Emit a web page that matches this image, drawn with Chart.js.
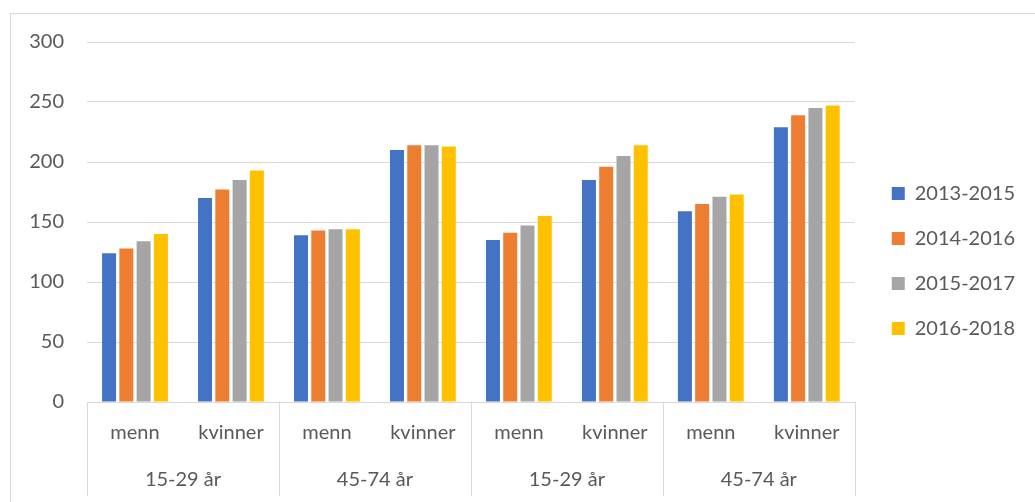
<!DOCTYPE html>
<html>
<head>
<meta charset="utf-8">
<script src="https://cdn.jsdelivr.net/npm/chart.js@4"></script>
<style>
  html, body { margin: 0; padding: 0; background: #fff; }
  #wrap { position: relative; width: 1035px; height: 502px; overflow: hidden; }
  #frame { position: absolute; left: 10px; top: 13px; width: 1100px; height: 600px; border: 1px solid #d9d9d9; pointer-events: none; }
</style>
</head>
<body>
<div id="wrap">
  <canvas id="chart" width="1035" height="502"></canvas>
  <div id="frame"></div>
</div>
<script>
// kategorier og verdier lest av figuren
const categories = ['menn', 'kvinner', 'menn', 'kvinner', 'menn', 'kvinner', 'menn', 'kvinner'];
const ageGroups = ['15-29 år', '45-74 år', '15-29 år', '45-74 år'];
const periods = ['2013-2015', '2014-2016', '2015-2017', '2016-2018'];
const yTicks = [0, 50, 100, 150, 200, 250, 300];

const v2013_2015 = [124, 170, 139, 210, 135, 185, 159, 229];
const v2014_2016 = [128, 177, 143, 214, 141, 196, 165, 239];
const v2015_2017 = [134, 185, 144, 214, 147, 205, 171, 245];
const v2016_2018 = [140, 193, 144, 213, 155, 214, 173, 247];

const colors = ['#4472C4', '#ED7D31', '#A5A5A5', '#FFC000'];
const series = [v2013_2015, v2014_2016, v2015_2017, v2016_2018];
const FONT = 'Lato, Calibri, sans-serif';
const TEXT = '#595959';

// aldersgrupper under kategoriene, med skillelinjer
const groupAxis = {
    id: 'groupAxis',
    afterDraw(chart) {
        const x = chart.scales.x;
        const ctx = chart.ctx;
        const bottom = chart.chartArea.bottom;
        const step = x.getPixelForValue(1) - x.getPixelForValue(0);
        ctx.save();
        ctx.strokeStyle = '#d9d9d9';
        ctx.lineWidth = 1;
        ctx.font = '20px ' + FONT;
        ctx.fillStyle = TEXT;
        ctx.textAlign = 'center';
        ctx.textBaseline = 'middle';
        for (let g = 0; g <= ageGroups.length; g++) {
            const px = Math.round(x.getPixelForValue(g * 2) - step / 2) + 0.5;
            ctx.beginPath();
            ctx.moveTo(px, bottom);
            ctx.lineTo(px, bottom + 94);
            ctx.stroke();
        }
        ageGroups.forEach(function(label, g) {
            const cx = (x.getPixelForValue(g * 2) + x.getPixelForValue(g * 2 + 1)) / 2;
            ctx.fillText(label, cx, bottom + 78);
        });
        ctx.restore();
    }
};

var ctx = document.getElementById('chart').getContext('2d');
new Chart(ctx, {
    type: 'bar',
    data: {
        labels: categories,
        datasets: periods.map(function(p, i) {
            return {
                label: p,
                data: series[i],
                backgroundColor: colors[i],
                borderWidth: 0,
                categoryPercentage: 0.72,
                barPercentage: 0.81
            };
        })
    },
    options: {
        responsive: false,
        animation: false,
        layout: { padding: { left: 10, top: 42, right: 10, bottom: 22 } },
        plugins: {
            legend: {
                position: 'right',
                labels: {
                    boxWidth: 13,
                    boxHeight: 13,
                    padding: 25,
                    color: TEXT,
                    font: { family: FONT, size: 20 }
                }
            },
            tooltip: { enabled: false }
        },
        scales: {
            x: {
                grid: { display: false, drawTicks: false },
                border: { display: true, color: '#d9d9d9' },
                ticks: {
                    color: TEXT,
                    font: { family: FONT, size: 20 },
                    padding: 19,
                    maxRotation: 0,
                    autoSkip: false
                },
                afterFit(scale) { scale.height = 78; }
            },
            y: {
                min: 0,
                max: 300,
                afterBuildTicks(scale) { scale.ticks = yTicks.map(v => ({ value: v })); },
                grid: { color: '#d9d9d9', drawTicks: false },
                border: { display: false },
                ticks: {
                    color: TEXT,
                    font: { family: FONT, size: 20 },
                    padding: 23
                },
                afterFit(scale) { scale.width = 77; }
            },
            // tom akse til høyre, bare for luft mellom plott og forklaring
            gap: {
                position: 'right',
                min: 0,
                max: 300,
                grid: { display: false },
                border: { display: false },
                ticks: { display: false },
                afterFit(scale) { scale.width = 12; }
            }
        }
    },
    plugins: [groupAxis]
});
</script>
</body>
</html>
